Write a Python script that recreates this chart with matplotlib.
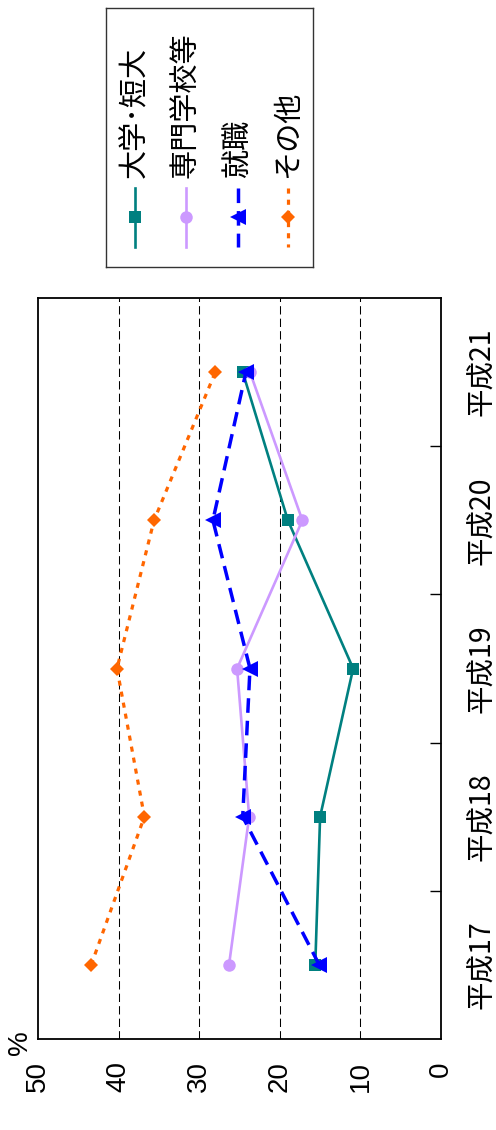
import matplotlib
matplotlib.use("Agg")
import matplotlib.pyplot as plt
from matplotlib.lines import Line2D

# ---- data -------------------------------------------------------------
years = ["平成17", "平成18", "平成19", "平成20", "平成21"]
series_names = ["大学･短大", "専門学校等", "就職", "その他"]
daigaku = [15.6, 15.0, 10.9, 19.0, 24.6]
senmon = [26.3, 23.8, 25.3, 17.2, 23.7]
shushoku = [15.1, 24.6, 23.7, 28.3, 24.2]
sonota = [43.4, 36.8, 40.2, 35.6, 28.0]
value_ticks = [0, 10, 20, 30, 40, 50]

# ---- styles -----------------------------------------------------------
styles = [
    dict(color="#008080", ls="-", lw=1.9, marker="s", ms=9.0),
    dict(color="#CC99FF", ls="-", lw=1.9, marker="o", ms=9.0),
    dict(color="#0000FF", ls=(0, (4.2, 2.3)), lw=2.5, marker="<", ms=11.0),
    dict(color="#FF6600", ls=(0, (1.6, 1.9)), lw=2.3, marker="D", ms=7.4),
]
all_values = [daigaku, senmon, shushoku, sonota]

CJK = ["Noto Sans CJK JP", "DejaVu Sans"]
LAT = ["Liberation Sans", "DejaVu Sans"]

W, H = 496, 1130
fig = plt.figure(figsize=(W / 100, H / 100), dpi=100)


def box(x0, y0, x1, y1):
    """pixel box (top-left origin) -> figure fraction rect"""
    return [x0 / W, 1 - y1 / H, (x1 - x0) / W, (y1 - y0) / H]


# ---- main chart (value axis horizontal, reversed; years run upward) ----
ax = fig.add_axes(box(38, 298, 441, 1039))
idx = list(range(len(years)))
for vals, st in zip(all_values, styles):
    ax.plot(vals, idx, color=st["color"], linestyle=st["ls"], linewidth=st["lw"],
            marker=st["marker"], markersize=st["ms"], markeredgewidth=0,
            zorder=3)

ax.set_xlim(50, 0)
ax.set_ylim(-0.5, len(years) - 0.5)

ax.set_xticks(value_ticks)
ax.set_xticklabels([str(v) for v in value_ticks], rotation=90,
                   fontsize=20, family=LAT)
ax.tick_params(axis="x", length=0, pad=16)

for v in value_ticks[1:-1]:
    ax.axvline(v, color="black", lw=0.75, ls=(0, (8, 4)), zorder=1)

ax.yaxis.tick_right()
ax.set_yticks(idx)
ax.set_yticklabels(years, rotation=90, fontsize=20.5, family=CJK,
                   va="center")
ax.tick_params(axis="y", which="major", length=0, pad=19)
ax.set_yticks([i + 0.5 for i in idx[:-1]], minor=True)
ax.tick_params(axis="y", which="minor", direction="in", length=8,
               width=1.0, right=True, left=False)

for s in ax.spines.values():
    s.set_linewidth(1.3)
    s.set_color("black")

fig.text(20 / W, 1 - 1043 / H, "%", rotation=90, fontsize=20, family=LAT,
         ha="center", va="center")

# ---- legend ------------------------------------------------------------
lg = fig.add_axes(box(106, 8, 313, 267))
lg.set_xlim(106, 313)
lg.set_ylim(267, 8)
lg.set_xticks([])
lg.set_yticks([])
for s in lg.spines.values():
    s.set_linewidth(1.0)
    s.set_color("#333333")

entry_x = [135, 186, 238, 288]
for name, st, xc in zip(series_names, styles, entry_x):
    lg.add_line(Line2D([xc, xc], [188, 247], color=st["color"],
                       linestyle=st["ls"], linewidth=st["lw"]))
    lg.add_line(Line2D([xc], [217], color=st["color"], marker=st["marker"],
                       markersize=st["ms"], markeredgewidth=0, linestyle="none"))
    lg.text(xc, 178, name, rotation=90, fontsize=21, family=CJK,
            ha="center", va="bottom")

fig.savefig("out.png", dpi=100)
